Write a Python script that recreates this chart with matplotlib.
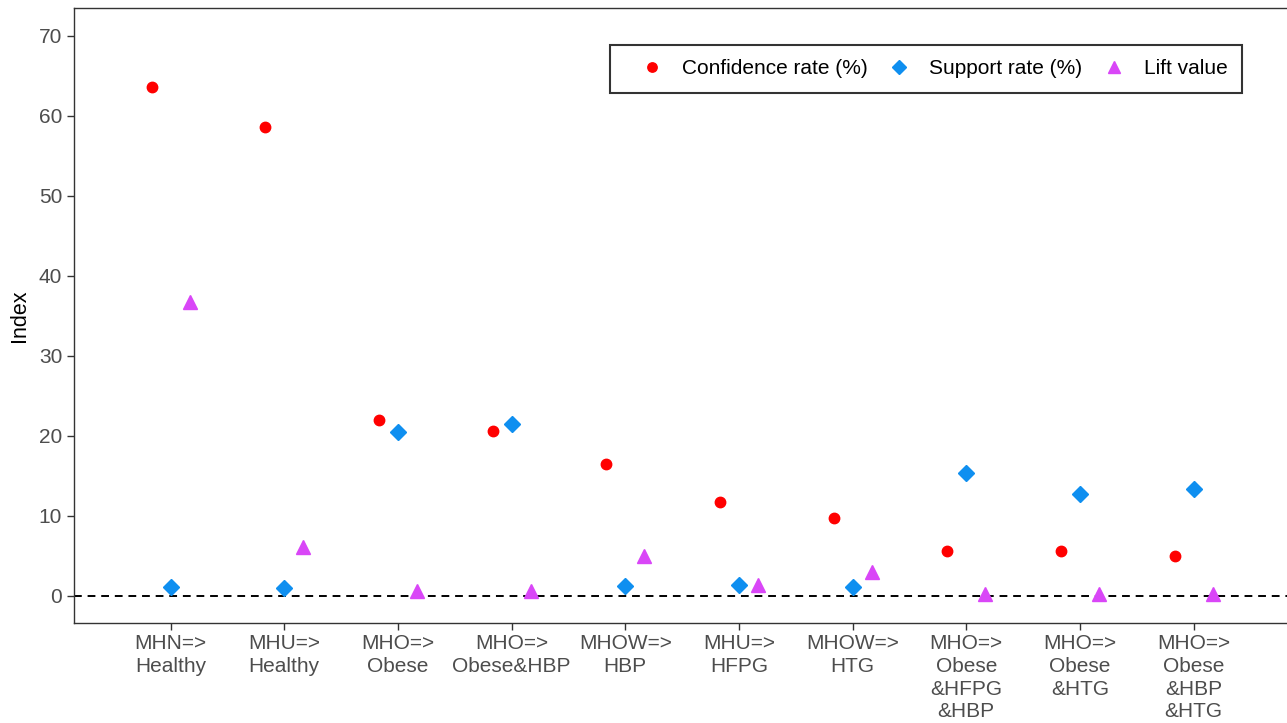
import numpy as np
import matplotlib.pyplot as plt

plt.rcParams['font.family'] = ['Liberation Sans', 'DejaVu Sans']

rules = ["MHN=>\nHealthy", "MHU=>\nHealthy", "MHO=>\nObese", "MHO=>\nObese&HBP",
         "MHOW=>\nHBP", "MHU=>\nHFPG", "MHOW=>\nHTG", "MHO=>\nObese\n&HFPG\n&HBP",
         "MHO=>\nObese\n&HTG", "MHO=>\nObese\n&HBP\n&HTG"]
confidence = [63.6, 58.6, 22.0, 20.6, 16.5, 11.75, 9.75, 5.6, 5.6, 5.0]
support = [1.1, 1.0, 20.5, 21.5, 1.25, 1.4, 1.1, 15.4, 12.75, 13.4]
lift = [36.7, 6.1, 0.6, 0.6, 5.0, 1.4, 3.0, 0.25, 0.25, 0.25]

x = np.arange(1, len(rules) + 1)

fig = plt.figure(figsize=(12.87, 7.23), dpi=100)
ax = fig.add_axes([0.0575, 0.1383, 0.945, 0.8507])

ax.axhline(0, color='black', linestyle=(0, (4, 3)), linewidth=1.4, zorder=1)
ax.plot(x - 1/6, confidence, 'o', color='#FF0000', markersize=7.5, linestyle='none',
        label='Confidence rate (%)', zorder=3)
ax.plot(x, support, 'D', color='#0F8FF0', markersize=7.8, linestyle='none',
        label='Support rate (%)', zorder=3)
ax.plot(x + 1/6, lift, '^', color='#D946F7', markersize=10, linestyle='none',
        label='Lift value', zorder=3)

ax.set_xlim(0.15, 10.85)
ax.set_ylim(-3.4, 73.5)
ax.set_yticks(range(0, 71, 10))
ax.set_xticks(x)
ax.set_xticklabels(rules, linespacing=1.25)
ax.tick_params(colors='#333333', labelcolor='#4D4D4D', labelsize=15, length=5, width=1)
ax.tick_params(axis='x', pad=3)
ax.set_ylabel('Index', fontsize=15.5, color='black', labelpad=6)
for s in ax.spines.values():
    s.set_color('#333333')
    s.set_linewidth(1)

leg = ax.legend(loc='upper right', bbox_to_anchor=(0.9605, 0.94), borderaxespad=0,
                ncol=3, fontsize=15, frameon=True, fancybox=False, edgecolor='black',
                handletextpad=0.15, columnspacing=0.2, borderpad=0.7, handlelength=2.6,
                markerscale=0.9)
leg.get_frame().set_linewidth(1.5)

fig.savefig('out.png', dpi=100)
